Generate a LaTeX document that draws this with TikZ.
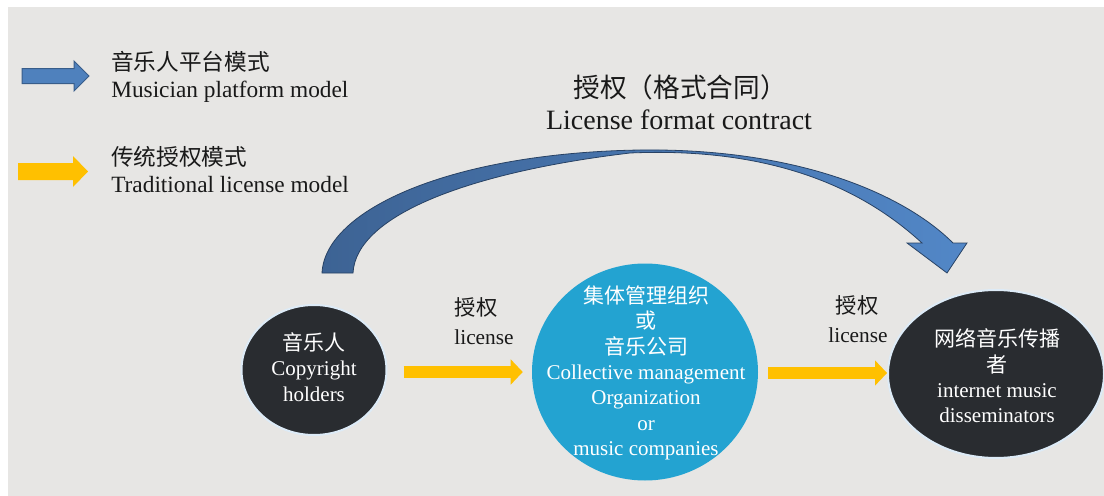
\documentclass[tikz,border=0pt]{standalone}
\usepackage{fontspec}
\setmainfont{Liberation Serif}
\newfontfamily\cjk{Noto Sans CJK SC}
\usetikzlibrary{calc,shapes.geometric,arrows.meta}
\definecolor{slidegray}{RGB}{231,230,228}
\definecolor{darkdisc}{RGB}{41,44,48}
\definecolor{rimblue}{RGB}{221,235,247}
\definecolor{cmoblue}{RGB}{35,163,209}
\definecolor{tradyellow}{RGB}{255,192,0}
\definecolor{platblue}{RGB}{79,129,189}
\definecolor{platedge}{RGB}{56,93,138}
\definecolor{arcdark}{RGB}{61,99,148}
\definecolor{arclight}{RGB}{82,135,199}
\definecolor{arcedge}{RGB}{40,66,100}
\tikzset{
  darkdisc/.style={ellipse,fill=darkdisc,draw=rimblue,line width=1.5pt,inner sep=0pt},
  cmodisc/.style={ellipse,fill=cmoblue,inner sep=0pt},
  disctext/.style={align=center,text=white,inner sep=0pt,font=\fontsize{15.75}{19}\selectfont},
  tradarrow/.style={draw=tradyellow,line width=9pt,
    -{Triangle[length=9pt,width=19pt,line width=0pt]}},
  labeltext/.style={inner sep=0.75pt,text=black!90}
}
\begin{document}
\begin{tikzpicture}[x=0.75pt,y=0.75pt,yscale=-1,xscale=1]
\useasboundingbox (0,0) rectangle (1104,496);
\fill[white] (0,0) rectangle (1104,496);
%Slide background
\fill[slidegray] (8,7) rectangle (1104,496);

%Shape: legend arrows
\filldraw[fill=platblue,draw=platedge,line width=0.75pt] (22,68.5) -- (74,68.5) -- (74,61) -- (89,76) -- (74,91) -- (74,83.5) -- (22,83.5) -- cycle;
\fill[tradyellow] (18,163) -- (73,163) -- (73,156) -- (88,171.5) -- (73,187) -- (73,180) -- (18,180) -- cycle;

% Text Node
\draw (110,62) node [anchor=west][labeltext][font=\fontsize{17}{20}\selectfont\cjk] (platzh) {音乐人平台模式};
\draw (110,92) node [anchor=west][labeltext][font=\fontsize{17.5}{20}\selectfont] (platen) {Musician platform model};
\draw (110,157) node [anchor=west][labeltext][font=\fontsize{17}{20}\selectfont\cjk] (tradzh) {传统授权模式};
\draw (110,185) node [anchor=west][labeltext][font=\fontsize{17.5}{20}\selectfont] (traden) {Traditional license model};

%Shape: the three parties
\node[darkdisc,minimum width=108.75pt,minimum height=97.5pt] (holder) at (314,370) {};
\node[cmodisc,minimum width=169.5pt,minimum height=162.75pt] (cmo) at (645,372) {};
\node[darkdisc,minimum width=162pt,minimum height=126pt] (dissem) at (996,374) {};

% Text Node
\node[disctext] (holdertext) at (314,367) {\cjk 音乐人\\\rmfamily Copyright\\holders};
\node[disctext] (cmotext) at (646,373) {\cjk 集体管理组织\\\cjk 或\\\cjk 音乐公司\\\rmfamily Collective management\\Organization\\or\\music companies};
\node[disctext] (dissemtext) at (997,376) {\cjk 网络音乐传播\\\cjk 者\\\rmfamily internet music\\disseminators};

%Straight arrows: traditional license
\draw[tradarrow] ($(holder.east)+(16,2)$) -- ($(cmo.west)+(-9,0)$);
\draw[tradarrow] ($(cmo.east)+(10,1)$) -- ($(dissem.west)+(0,-1)$);

% Text Node
\draw (476,307) node [labeltext][font=\fontsize{16}{19}\selectfont\cjk] (lic1zh) {授权};
\draw (484,337) node [labeltext][font=\fontsize{16}{19}\selectfont] (lic1en) {license};
\draw (857,305) node [labeltext][font=\fontsize{16}{19}\selectfont\cjk] (lic2zh) {授权};
\draw (858,335) node [labeltext][font=\fontsize{16}{19}\selectfont] (lic2en) {license};

%Shape: curved arrow, musician platform
\draw[left color=arcdark,right color=arclight,draw=arcedge,line width=0.6pt]
  (322,273) .. controls (325,210) and (450,153) .. (640,150)
  .. controls (800,148) and (905,195) .. (953,243)
  -- (967,243) -- (947,273) -- (907,243) -- (922,243)
  .. controls (875,200) and (790,146) .. (630,153)
  .. controls (470,172) and (356,215) .. (353,273) -- cycle;

% Text Node
\draw (680,87) node [labeltext][font=\fontsize{20}{24}\selectfont\cjk] (titlezh) {授权（格式合同）};
\draw (679,120) node [labeltext][font=\fontsize{21}{24}\selectfont] (titleen) {License format contract};

\end{tikzpicture}
\end{document}
